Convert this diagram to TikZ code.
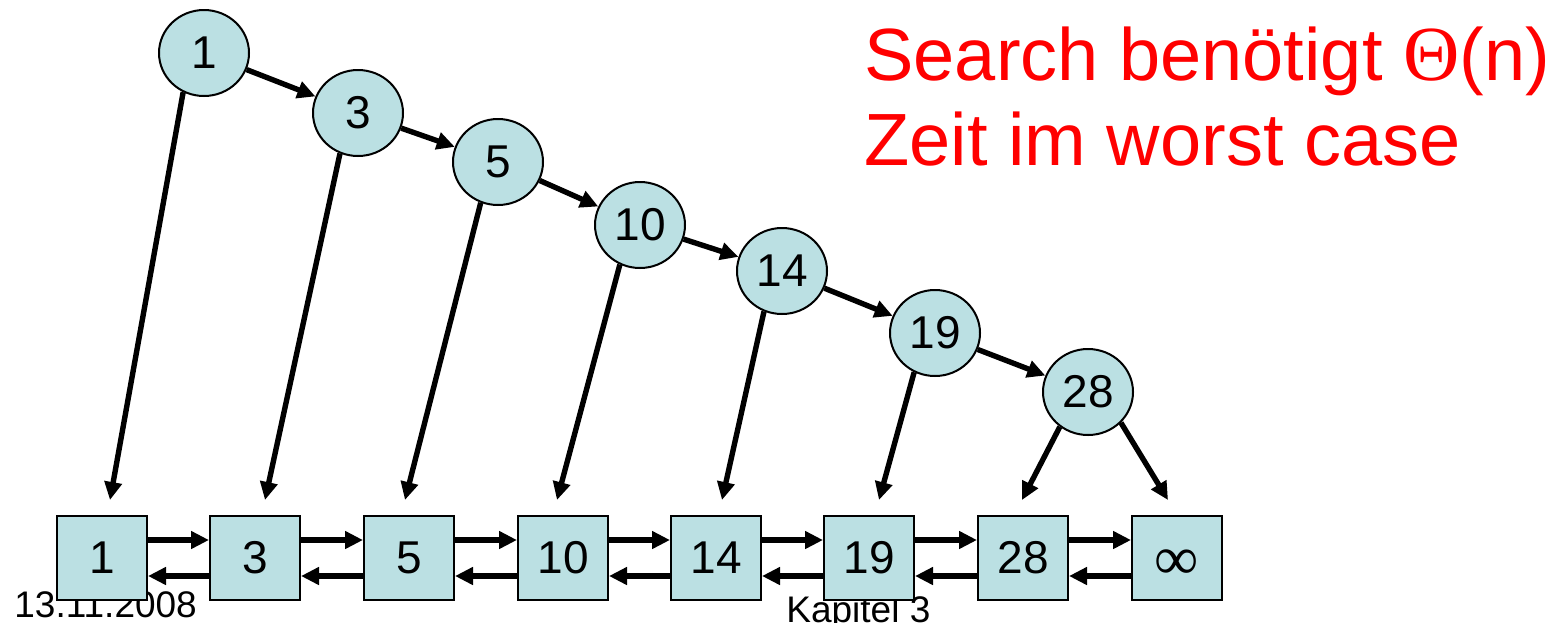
\documentclass[tikz,border=0pt]{standalone}
\usepackage{fontspec}
\setmainfont{Liberation Sans}
\newfontfamily\symfont{Liberation Serif}
\usetikzlibrary{arrows.meta,calc,shapes.geometric}
\definecolor{nodefill}{RGB}{187,224,227}
\definecolor{headred}{RGB}{255,0,0}
\begin{document}
\begin{tikzpicture}[x=0.5pt,y=-0.5pt,
  key/.style={ellipse,draw=black,line width=1pt,fill=nodefill,
    minimum width=45pt,minimum height=43pt,inner sep=0pt,
    font=\fontsize{23}{23}\selectfont},
  cell/.style={rectangle,draw=black,line width=1pt,fill=nodefill,
    minimum width=45pt,minimum height=42pt,inner sep=0pt,
    font=\fontsize{23}{23}\selectfont},
  arr/.style={line width=2.7pt,-{Triangle[length=9pt,width=8.5pt]}},
  footer/.style={font=\fontsize{18.5}{18.5}\selectfont,anchor=base west,inner sep=0pt},
  claim/.style={font=\fontsize{37}{37}\selectfont,text=headred,anchor=base west,inner sep=0pt}]
\useasboundingbox (0,0) rectangle (1557,622);

% footer lies underneath the list cells
\node[footer] (date) at (14,617) {13.11.2008};
\node[footer] (chap) at (786,622) {Kapitel 3};

% statement
\node[claim] (line1) at (864,80) {Search benötigt {\symfont\fontsize{39}{39}\selectfont Θ}(n)};
\node[claim] (line2) at (864,165) {Zeit im worst case};

% search path keys
\node[key] (c1)  at (204,53)  {1};
\node[key] (c3)  at (358,113) {3};
\node[key] (c5)  at (498,162) {5};
\node[key] (c10) at (640,225) {10};
\node[key] (c14) at (782,271) {14};
\node[key] (c19) at (935,333) {19};
\node[key] (c28) at (1088,392) {28};

% doubly linked list
\node[cell] (s1)  at (102,558)  {1};
\node[cell] (s3)  at (255,558)  {3};
\node[cell] (s5)  at (409,558)  {5};
\node[cell] (s10) at (563,558)  {10};
\node[cell] (s14) at (716,558)  {14};
\node[cell] (s19) at (869,558)  {19};
\node[cell] (s28) at (1023,558) {28};
\node[cell] (sinf) at (1177,558)
  {\raisebox{-10.5pt}[0pt][0pt]{\symfont\fontsize{31}{31}\selectfont ∞}};

% next pointers along the path
\foreach \a/\b in {c1/c3,c3/c5,c5/c10,c10/c14,c14/c19,c19/c28}
  \draw[arr] (\a) -- (\b);

% pointers down to the list
\foreach \a/\ang/\b/\dx in {c1/242/s1/8,c3/246/s3/10,c5/247/s5/-4,c10/243/s10/-6,
    c14/246/s14/6,c19/242/s19/10,c28/231/s28/-1,c28/317/sinf/-9}
  \draw[arr] (\a.\ang) -- ($(\b.north)+(\dx,-15)$);

% forward and backward links
\foreach \a/\b in {s1/s3,s3/s5,s5/s10,s10/s14,s14/s19,s19/s28,s28/sinf}{
  \draw[arr] ($(\a.east)+(0,-18)$) -- ($(\b.west)+(0,-18)$);
  \draw[arr] ($(\b.west)+(0,18)$) -- ($(\a.east)+(0,18)$);
}
\end{tikzpicture}
\end{document}
